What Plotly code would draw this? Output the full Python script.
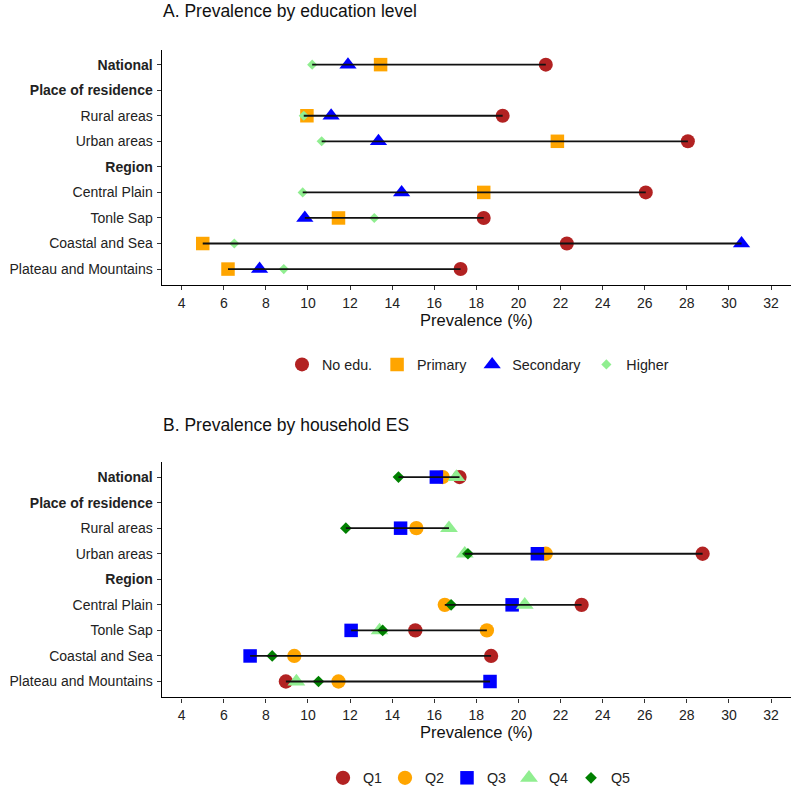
import plotly.graph_objects as go

# ---------------- data ----------------
rows = ["National", "Place of residence", "Rural areas", "Urban areas", "Region",
        "Central Plain", "Tonle Sap", "Coastal and Sea", "Plateau and Mountains"]
bold_rows = ["National", "Place of residence", "Region"]

edu_names = ["No edu.", "Primary", "Secondary", "Higher"]
edu_no = [21.3, None, 19.25, 28.05, None, 26.05, 18.35, 22.3, 17.25]
edu_primary = [13.45, None, 9.95, 21.85, None, 18.35, 11.45, 5.0, 6.2]
edu_secondary = [11.9, None, 11.1, 13.35, None, 14.45, 9.85, 30.6, 7.7]
edu_higher = [10.2, None, 9.8, 10.65, None, 9.75, 13.15, 6.5, 8.85]

es_names = ["Q1", "Q2", "Q3", "Q4", "Q5"]
es_q1 = [17.2, None, None, 28.75, None, 23.0, 15.1, 18.7, 8.95]
es_q2 = [16.4, None, 15.15, 21.3, None, 16.5, 18.5, 9.35, 11.45]
es_q3 = [16.1, None, 14.4, 20.9, None, 19.7, 12.05, 7.25, 18.65]
es_q4 = [17.05, None, 16.7, 17.45, None, 20.3, 13.4, None, 9.45]
es_q5 = [14.3, None, 11.8, 17.6, None, 16.8, 13.55, 8.3, 10.5]

x_ticks = list(range(4, 33, 2))

# ---------------- styles ----------------
W = H = 794
FONT = "Liberation Sans, Arial, sans-serif"
edu_series = [edu_no, edu_primary, edu_secondary, edu_higher]
edu_colors = ["#B22222", "#FFA500", "#0000FF", "#90EE90"]
edu_symbols = ["circle", "square", "triangle-up", "diamond"]
edu_sizes = [14, 13.5, 15, 7.8]

es_series = [es_q1, es_q2, es_q3, es_q4, es_q5]
es_colors = ["#B22222", "#FFA500", "#0000FF", "#90EE90", "#008000"]
es_symbols = ["circle", "circle", "square", "triangle-up", "diamond"]
es_sizes = [14.3, 14.3, 13.5, 15.5, 9]

fig = go.Figure()

ypos = list(range(len(rows)))
ticktext = ["<b>%s</b>" % r if r in bold_rows else r for r in rows]


def add_panel(series, names, colors, symbols, sizes, xa, ya, legend):
    for s, n, c, sym, sz in zip(series, names, colors, symbols, sizes):
        fig.add_trace(go.Scatter(
            x=s, y=ypos, mode="markers", name=n, xaxis=xa, yaxis=ya, legend=legend,
            marker=dict(color=c, symbol=sym, size=sz, line=dict(width=0)),
            showlegend=True, cliponaxis=False))
    lx, ly = [], []
    for i in range(len(rows)):
        vals = [s[i] for s in series if s[i] is not None]
        if vals:
            lx += [min(vals), max(vals), None]
            ly += [i, i, None]
    fig.add_trace(go.Scatter(x=lx, y=ly, mode="lines", xaxis=xa, yaxis=ya,
                             line=dict(color="#111111", width=1.8),
                             showlegend=False, hoverinfo="skip"))


add_panel(edu_series, edu_names, edu_colors, edu_symbols, edu_sizes, "x", "y", "legend")
add_panel(es_series, es_names, es_colors, es_symbols, es_sizes, "x2", "y2", "legend2")

x_dom = [161.7 / W, 791 / W]
ax_common = dict(showline=True, linecolor="black", linewidth=1.3, ticks="outside",
                 ticklen=4, tickcolor="#333", tickwidth=1, showgrid=False, zeroline=False,
                 tickfont=dict(family=FONT, size=14, color="#222"))

xaxis_cfg = dict(ax_common, range=[3.05, 32.95], tickvals=x_ticks, domain=x_dom,
                 ticklabelstandoff=1)
yaxis_cfg = dict(ax_common, range=[8.62, -0.58], tickvals=ypos, ticktext=ticktext,
                 ticklabelstandoff=1)

fig.update_layout(
    width=W, height=H, autosize=False,
    margin=dict(l=0, r=0, t=0, b=0),
    paper_bgcolor="white", plot_bgcolor="white",
    font=dict(family=FONT, color="#222"),
    xaxis=dict(xaxis_cfg, anchor="y"),
    yaxis=dict(yaxis_cfg, anchor="x", domain=[1 - 286 / H, 1 - 50 / H]),
    xaxis2=dict(xaxis_cfg, anchor="y2"),
    yaxis2=dict(yaxis_cfg, anchor="x2", domain=[1 - 700 / H, 1 - 464 / H]),
    legend=dict(orientation="h", x=478 / W, xanchor="center", y=1 - 366 / H,
                yanchor="middle", font=dict(family=FONT, size=14.3, color="#222"),
                bgcolor="rgba(0,0,0,0)"),
    legend2=dict(orientation="h", x=478 / W, xanchor="center", y=1 - 781 / H,
                 yanchor="middle", font=dict(family=FONT, size=14.3, color="#222"),
                 bgcolor="rgba(0,0,0,0)", entrywidth=17, entrywidthmode="pixels"),
    showlegend=True,
)

annots = [
    ("A. Prevalence by education level", 161, 11, 17.5, "left"),
    ("B. Prevalence by household ES", 161, 427, 17.5, "left"),
    ("Prevalence (%)", 476, 321, 16.5, "center"),
    ("Prevalence (%)", 476, 735, 16.5, "center"),
]
for t, px, py, fs, xa in annots:
    fig.add_annotation(text=t, xref="paper", yref="paper", x=px / W, y=1 - py / H,
                       xanchor=xa, yanchor="middle", showarrow=False,
                       font=dict(family=FONT, size=fs, color="#111"))

fig.write_html("out.html")
